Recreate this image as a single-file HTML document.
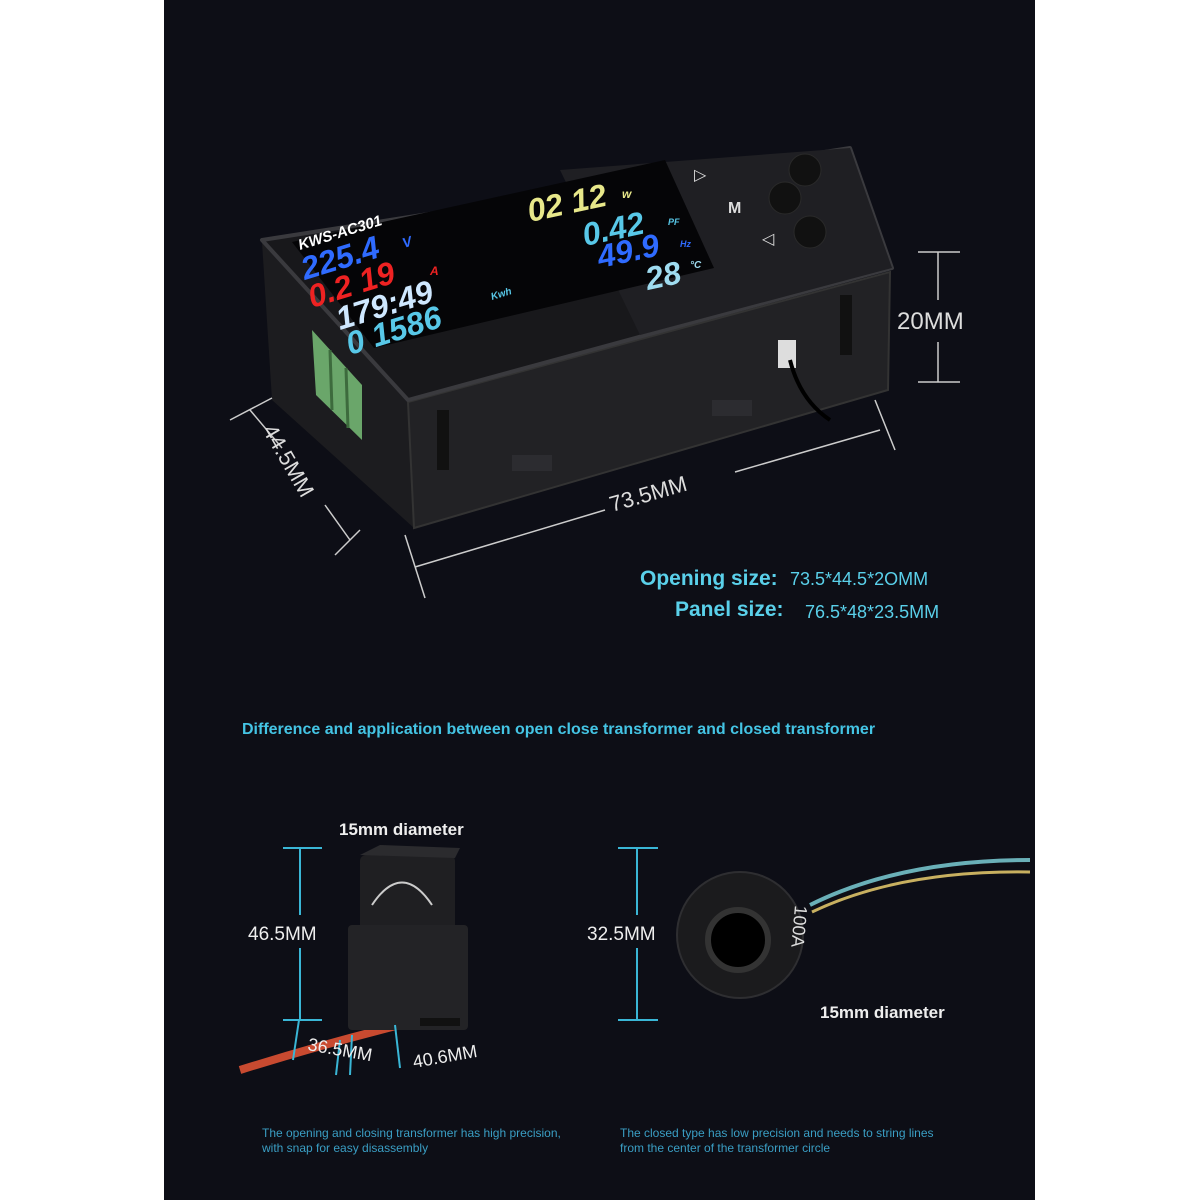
<!DOCTYPE html>
<html><head><meta charset="utf-8"><style>
html,body{margin:0;padding:0;background:#fff;width:1200px;height:1200px;overflow:hidden}
svg{display:block}
text{font-family:"Liberation Sans",sans-serif}
</style></head><body>
<svg width="1200" height="1200" viewBox="0 0 1200 1200">
<rect x="0" y="0" width="1200" height="1200" fill="#fff"/>
<rect x="164" y="0" width="871" height="1200" fill="#0d0e16"/>

<!-- device body -->
<polygon points="262,242 408,402 414,528 272,400" fill="#1c1c1f"/>
<polygon points="408,402 890,272 888,390 414,528" fill="#222225" stroke="#333" stroke-width="2"/>
<polygon points="262,240 850,148 892,268 408,400" fill="#18181b" stroke="#3a3a3e" stroke-width="4" stroke-linejoin="round"/>
<polygon points="560,170 850,148 892,268 640,335" fill="#1f1f23"/>
<!-- screen -->
<polygon points="292,242 665,160 714,268 374,348" fill="#050507"/>
<!-- terminal -->
<polygon points="312,330 362,385 362,440 316,395" fill="#6aa66a"/>
<line x1="330" y1="350" x2="332" y2="410" stroke="#3d6b3d" stroke-width="3"/>
<line x1="346" y1="368" x2="348" y2="428" stroke="#3d6b3d" stroke-width="3"/>
<!-- clips -->
<rect x="437" y="410" width="12" height="60" fill="#111" />
<rect x="840" y="295" width="12" height="60" fill="#111"/>
<rect x="778" y="340" width="18" height="28" fill="#ddd"/>
<path d="M790 360 Q800 400 830 420" stroke="#000" stroke-width="4" fill="none"/>
<rect x="512" y="455" width="40" height="16" fill="#2c2c30"/>
<rect x="712" y="400" width="40" height="16" fill="#2c2c30"/>
<!-- readouts -->
<g font-weight="bold" font-style="italic">
<text x="300" y="250" fill="#fff" font-size="15" transform="rotate(-17 300 250)">KWS-AC301</text>
<text x="305" y="280" fill="#2f6bff" font-size="32" transform="rotate(-17 305 280)">225.4</text>
<text x="404" y="248" fill="#2f6bff" font-size="14" transform="rotate(-17 404 248)">V</text>
<text x="312" y="308" fill="#e22" font-size="32" transform="rotate(-17 312 308)">0.2 19</text>
<text x="430" y="275" fill="#e22" font-size="12">A</text>
<text x="340" y="330" fill="#cfe8ff" font-size="32" transform="rotate(-17 340 330)">179:49</text>
<text x="350" y="355" fill="#58c8e8" font-size="32" transform="rotate(-17 350 355)">0 1586</text>
<text x="492" y="300" fill="#58c8e8" font-size="10" transform="rotate(-17 492 300)">Kwh</text>
<text x="530" y="222" fill="#e8e88a" font-size="32" transform="rotate(-12 530 222)">02 12</text>
<text x="622" y="198" fill="#e8e88a" font-size="12">w</text>
<text x="585" y="246" fill="#58c8e8" font-size="32" transform="rotate(-12 585 246)">0.42</text>
<text x="668" y="225" fill="#58c8e8" font-size="9">PF</text>
<text x="600" y="268" fill="#2f6bff" font-size="32" transform="rotate(-12 600 268)">49.9</text>
<text x="680" y="247" fill="#2f6bff" font-size="9">Hz</text>
<text x="648" y="290" fill="#9fdcf0" font-size="32" transform="rotate(-12 648 290)">28</text>
<text x="690" y="268" fill="#9fdcf0" font-size="10">°C</text>
</g>
<!-- buttons -->
<text x="694" y="180" fill="#ddd" font-size="16">▷</text>
<text x="728" y="213" fill="#ddd" font-size="16" font-weight="bold">M</text>
<text x="762" y="244" fill="#ddd" font-size="16">◁</text>
<circle cx="805" cy="170" r="16" fill="#111" stroke="#2a2a2a"/>
<circle cx="785" cy="198" r="16" fill="#111" stroke="#2a2a2a"/>
<circle cx="810" cy="232" r="16" fill="#111" stroke="#2a2a2a"/>

<!-- dimension lines -->
<g stroke="#ccc" stroke-width="1.5" fill="none">
<line x1="938" y1="252" x2="938" y2="300"/><line x1="938" y1="342" x2="938" y2="382"/>
<line x1="918" y1="252" x2="960" y2="252"/><line x1="918" y1="382" x2="960" y2="382"/>
<line x1="230" y1="420" x2="272" y2="398"/><line x1="250" y1="410" x2="282" y2="448"/>
<line x1="325" y1="505" x2="350" y2="540"/><line x1="335" y1="555" x2="360" y2="530"/>
<line x1="425" y1="598" x2="405" y2="535"/><line x1="415" y1="567" x2="605" y2="510"/>
<line x1="735" y1="472" x2="880" y2="430"/><line x1="895" y1="450" x2="875" y2="400"/>
</g>
<text x="897" y="329" fill="#ddd" font-size="24">20MM</text>
<text x="262" y="430" fill="#ddd" font-size="22" transform="rotate(60 262 430)">44.5MM</text>
<text x="612" y="512" fill="#ddd" font-size="22" transform="rotate(-16 612 512)">73.5MM</text>
<text x="640" y="585" fill="#5ad0ea" font-size="21" font-weight="bold">Opening size:</text>
<text x="790" y="585" fill="#5ad0ea" font-size="18">73.5*44.5*2OMM</text>
<text x="675" y="616" fill="#5ad0ea" font-size="21" font-weight="bold">Panel size:</text>
<text x="805" y="618" fill="#5ad0ea" font-size="18">76.5*48*23.5MM</text>
<text x="242" y="734" fill="#44c4e4" font-size="16" font-weight="bold">Difference and application between open close transformer and closed transformer</text>

<!-- clamp transformer -->
<path d="M240 1070 Q320 1045 400 1025" stroke="#c84a30" stroke-width="8" fill="none"/>
<rect x="360" y="855" width="95" height="170" rx="6" fill="#1f1f22"/>
<polygon points="360,855 380,845 460,848 455,858" fill="#2b2b2e"/>
<rect x="348" y="925" width="120" height="105" rx="4" fill="#232326"/>
<path d="M372 905 Q402 860 432 905" stroke="#ccc" stroke-width="2" fill="none"/>
<rect x="420" y="1018" width="40" height="8" fill="#111"/>
<g stroke="#3ab6d6" stroke-width="2">
<line x1="283" y1="848" x2="322" y2="848"/><line x1="300" y1="848" x2="300" y2="915"/>
<line x1="300" y1="948" x2="300" y2="1020"/><line x1="283" y1="1020" x2="322" y2="1020"/>
<line x1="299" y1="1020" x2="293" y2="1060"/><line x1="340" y1="1040" x2="336" y2="1075"/>
<line x1="352" y1="1035" x2="350" y2="1075"/><line x1="395" y1="1025" x2="400" y2="1068"/>
<line x1="618" y1="848" x2="658" y2="848"/><line x1="637" y1="848" x2="637" y2="915"/>
<line x1="637" y1="948" x2="637" y2="1020"/><line x1="618" y1="1020" x2="658" y2="1020"/>
</g>
<text x="339" y="835" fill="#eee" font-size="17" font-weight="bold">15mm diameter</text>
<text x="248" y="940" fill="#eee" font-size="19">46.5MM</text>
<text x="307" y="1050" fill="#eee" font-size="18" transform="rotate(10 307 1050)">36.5MM</text>
<text x="414" y="1068" fill="#eee" font-size="18" transform="rotate(-10 414 1068)">40.6MM</text>

<!-- toroid -->
<path d="M810 905 Q900 860 1030 860" stroke="#6ab0b8" stroke-width="4" fill="none"/>
<path d="M812 912 Q900 870 1030 872" stroke="#c8b060" stroke-width="3" fill="none"/>
<circle cx="740" cy="935" r="63" fill="#1b1b1d" stroke="#2e2e31" stroke-width="2"/>
<circle cx="738" cy="940" r="30" fill="#000" stroke="#333" stroke-width="6"/>
<text x="795" y="905" fill="#ddd" font-size="18" font-family="Liberation Serif" transform="rotate(95 795 905)">100A</text>
<text x="587" y="940" fill="#eee" font-size="19">32.5MM</text>
<text x="820" y="1018" fill="#eee" font-size="17" font-weight="bold">15mm diameter</text>

<g fill="#3a9ec4" font-size="12">
<text x="262" y="1137">The opening and closing transformer has high precision,</text>
<text x="262" y="1152">with snap for easy disassembly</text>
<text x="620" y="1137">The closed type has low precision and needs to string lines</text>
<text x="620" y="1152">from the center of the transformer circle</text>
</g>
</svg>
</body></html>
